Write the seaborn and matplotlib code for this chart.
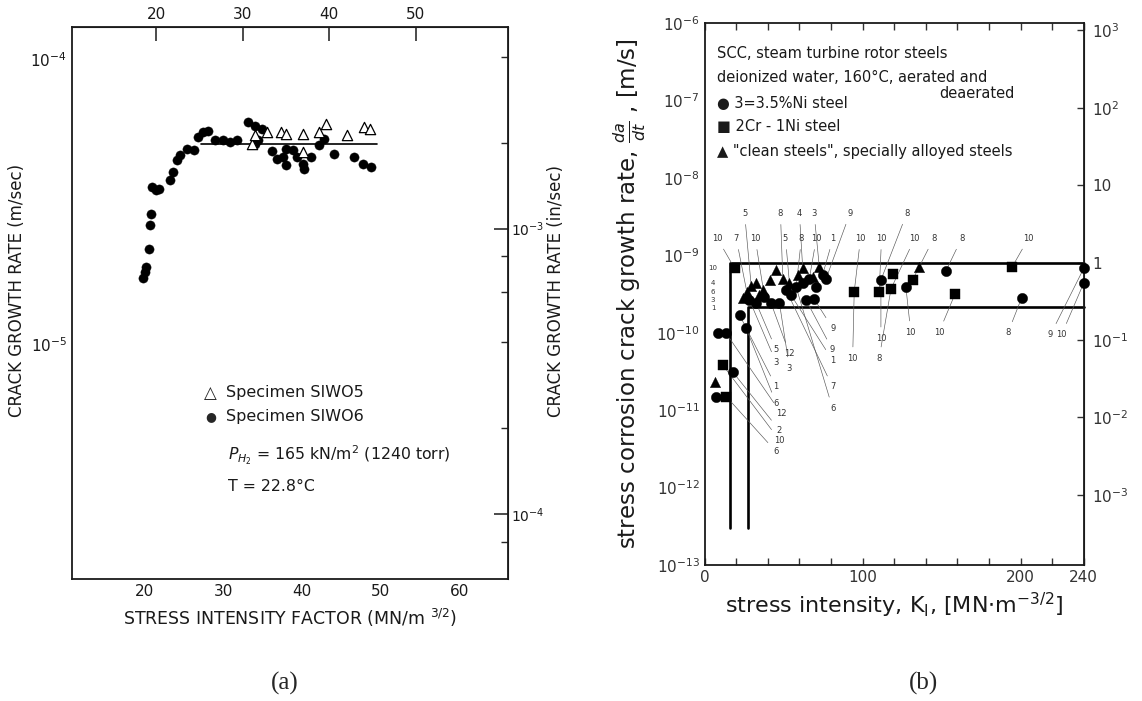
import numpy as np
import matplotlib
matplotlib.use("Agg")
import matplotlib.pyplot as plt
import matplotlib.ticker as mticker
import seaborn as sns

sns.set_style("white")
plt.rcParams['font.family'] = ['DejaVu Sans']
plt.rcParams['mathtext.fontset'] = 'dejavusans'
INK = '#1a1a1a'

# ---------------- (a) crack growth in hydrogen ----------------
# specimen SIW06 (filled circles), K in MN/m^3/2, rate in m/s
k_sw06 = [19.8, 20.0, 20.2, 20.5, 20.7, 20.8, 20.9, 21.4, 21.8,
          23.2, 23.6, 24.1, 24.5, 25.4, 26.3, 26.8, 27.4, 28.1,
          29.0, 29.9, 30.8, 31.7, 33.1, 34.0, 34.9, 34.4, 34.0,
          38.0, 37.6, 38.0, 38.9, 39.4, 40.1, 40.3, 41.2,
          42.1, 42.8, 44.1, 46.6, 47.7, 48.8, 36.2, 36.8]
v_sw06 = [1.70e-5, 1.79e-5, 1.87e-5, 2.16e-5, 2.61e-5, 2.86e-5, 3.56e-5, 3.46e-5, 3.51e-5,
          3.75e-5, 4.01e-5, 4.41e-5, 4.59e-5, 4.84e-5, 4.78e-5, 5.32e-5, 5.54e-5, 5.61e-5,
          5.18e-5, 5.18e-5, 5.11e-5, 5.18e-5, 6.00e-5, 5.84e-5, 5.69e-5, 5.18e-5, 5.04e-5,
          4.84e-5, 4.53e-5, 4.24e-5, 4.78e-5, 4.53e-5, 4.29e-5, 4.12e-5, 4.53e-5,
          4.98e-5, 5.25e-5, 4.65e-5, 4.53e-5, 4.29e-5, 4.18e-5, 4.75e-5, 4.45e-5]
# specimen SIW05 (open triangles)
k_sw05 = [33.7, 34.0, 35.5, 37.3, 38.0, 40.1, 42.1, 43.0, 45.7, 47.9, 48.6, 40.1]
v_sw05 = [5.04e-5, 5.40e-5, 5.54e-5, 5.54e-5, 5.46e-5, 5.46e-5, 5.54e-5, 5.92e-5,
          5.40e-5, 5.77e-5, 5.69e-5, 4.71e-5]
# plateau velocity
plateau_k = [27.2, 49.5]
plateau_v = [5.04e-5, 5.04e-5]
# axis ticks (m/s on the left, in/s on the right, ksi*in^0.5 on top)
ms_major = [1e-5, 1e-4]
ms_minor = [2e-6, 4e-6, 6e-6, 8e-6, 2e-5, 4e-5, 6e-5, 8e-5]
ins_major = [1e-4, 1e-3]
ins_minor = [8e-5, 2e-4, 4e-4, 6e-4, 8e-4, 2e-3, 4e-3]
ksi_ticks = [20, 30, 40, 50]

# ---------------- (b) SCC of steam turbine rotor steels ----------------
ni_k = [28.4, 32.6, 37.9, 42.1, 47.4, 51.6, 54.7, 57.9, 62.1, 66.3,
        70.5, 74.7, 76.9, 69.5, 64.2, 22.1, 26.3, 8.4, 13.7, 17.9,
        7.4, 111.6, 127.4, 152.6, 200.6, 240.0, 240.0]
ni_r = [2.65e-10, 2.44e-10, 2.9e-10, 2.4e-10, 2.4e-10, 3.56e-10, 3.07e-10, 3.9e-10, 4.35e-10, 5.0e-10,
        3.9e-10, 5.6e-10, 5.0e-10, 2.7e-10, 2.65e-10, 1.7e-10, 1.14e-10, 9.8e-11, 9.8e-11, 3.1e-11,
        1.5e-11, 4.8e-10, 3.9e-10, 6.2e-10, 2.8e-10, 6.8e-10, 4.4e-10]
cr_k = [19.0, 11.6, 13.7, 94.7, 110.5, 119.0, 118.0, 131.6, 158.6, 194.7]
cr_r = [6.8e-10, 3.8e-11, 1.5e-11, 3.4e-10, 3.4e-10, 5.8e-10, 3.7e-10, 4.8e-10, 3.2e-10, 7.1e-10]
cl_k = [24.2, 26.7, 29.5, 32.6, 34.7, 36.8, 41.1, 45.3, 49.5, 53.7, 58.9, 62.1, 68.4, 72.6, 6.3, 135.8]
cl_r = [2.78e-10, 3.4e-10, 4.0e-10, 4.35e-10, 3.07e-10, 3.56e-10, 4.8e-10, 6.5e-10, 5.0e-10,
        4.35e-10, 5.6e-10, 6.8e-10, 5.3e-10, 7.1e-10, 2.3e-11, 7.1e-10]
# scatter band boundaries
outer_k = [15.8, 15.8, 240]
outer_r = [3e-13, 7.9e-10, 7.9e-10]
inner_k = [27.4, 27.4, 240]
inner_r = [3e-13, 2.17e-10, 2.17e-10]
# reference numbers with leader lines
ref_txt = ['5', '8', '4', '3', '9', '8',
           '10', '7', '10', '5', '8', '10', '1', '10', '10', '10', '8', '8', '10',
           '9', '10', '10', '8', '10', '10', '8', '9', '10',
           '5', '12', '3', '3', '1', '6', '12', '2', '10', '6',
           '9', '1', '7', '6']
ref_k = [25.3, 48, 60, 69.3, 92, 128,
         8, 20, 32, 51.2, 61.3, 70.7, 81.3, 98.7, 112, 133, 145, 162.7, 205,
         81.1, 111.6, 93.7, 110.5, 130.5, 148.4, 192, 219, 226,
         45.3, 53.7, 45.3, 53.7, 45.3, 45.3, 48.4, 47.4, 47.4, 45.3,
         81, 81, 81, 81]
ref_r = [3.5e-9] * 6 + [1.66e-9] * 13 + \
        [1.14e-10, 8.5e-11, 4.7e-11, 4.7e-11, 1.02e-10, 1.02e-10, 1.0e-10, 9.5e-11, 9.5e-11,
         6e-11, 5.4e-11, 4.1e-11, 3.5e-11, 2e-11, 1.23e-11, 9.1e-12, 5.5e-12, 4.1e-12, 2.9e-12,
         6e-11, 4.4e-11, 2.0e-11, 1.06e-11]
tgt_k = [29.5, 49.5, 62.1, 72.6, 76.9, 111.6,
         19.0, 26.7, 37.9, 53.7, 57.9, 66.3, 74.7, 94.7, 110.5, 118.0, 131.6, 152.6, 194.7,
         69.5, 111.6, 94.7, 118.0, 127.4, 158.6, 200.6, 240, 240,
         32.6, 42.1, 28.4, 47.4, 22.1, 26.3, 13.7, 17.9, 11.6, 13.7,
         64.2, 54.7, 51.6, 57.9]
tgt_r = [4.0e-10, 5.0e-10, 6.8e-10, 7.1e-10, 5.0e-10, 4.8e-10,
         6.8e-10, 3.4e-10, 2.9e-10, 4.35e-10, 3.9e-10, 5.0e-10, 5.6e-10, 3.4e-10, 3.4e-10,
         3.7e-10, 4.8e-10, 6.2e-10, 7.1e-10,
         2.7e-10, 4.8e-10, 3.4e-10, 3.7e-10, 3.9e-10, 3.2e-10, 2.8e-10, 6.8e-10, 4.4e-10,
         2.44e-10, 2.4e-10, 2.65e-10, 2.4e-10, 1.7e-10, 1.14e-10, 9.8e-11, 3.1e-11, 3.8e-11, 1.5e-11,
         2.65e-10, 3.07e-10, 3.56e-10, 3.9e-10]
side_txt = ['10', '4', '6', '3', '1']
side_k = [5.3, 5.3, 5.3, 5.3, 5.3]
side_r = [6.8e-10, 4.35e-10, 3.4e-10, 2.65e-10, 2.1e-10]
ms_decades = [1e-13, 1e-12, 1e-11, 1e-10, 1e-9, 1e-8, 1e-7, 1e-6]
inyr_decades = [1e-3, 1e-2, 1e-1, 1, 10, 1e2, 1e3]

fig = plt.figure(figsize=(11.42, 7.01), dpi=100)
ax1 = fig.add_axes([0.063, 0.174, 0.382, 0.787])
ax2 = fig.add_axes([0.617, 0.194, 0.332, 0.773])

# ---- panel (a)
ax1.set_yscale('log')
sns.scatterplot(x=k_sw06, y=v_sw06, ax=ax1, marker='o', s=44, color='black',
                edgecolor='black', linewidth=0.3, zorder=3)
sns.scatterplot(x=k_sw05, y=v_sw05, ax=ax1, marker='^', s=55, facecolor='white',
                edgecolor='black', linewidth=0.9, zorder=4)
ax1.plot(plateau_k, plateau_v, color='black', lw=1.2, zorder=2)
ax1.set_xlim(10.77, 66.2)
ax1.set_ylim(1.503e-6, 1.29e-4)
ax1.set_xticks([20, 30, 40, 50, 60])
ax1.yaxis.set_major_locator(mticker.FixedLocator(ms_major))
ax1.yaxis.set_minor_locator(mticker.FixedLocator(ms_minor))
ax1.yaxis.set_major_formatter(mticker.LogFormatterSciNotation())
ax1.yaxis.set_minor_formatter(mticker.NullFormatter())
ax1.tick_params(which='major', direction='in', length=10, width=1.1, labelsize=11, colors=INK)
ax1.tick_params(which='minor', direction='in', length=5, width=1.0)
for s in ax1.spines.values():
    s.set_linewidth(1.3)
    s.set_color(INK)

top = ax1.secondary_xaxis('top', functions=(lambda x: (x + 0.5) / 1.0988,
                                            lambda t: t * 1.0988 - 0.5))
top.set_xticks(ksi_ticks)
top.tick_params(direction='in', length=10, width=1.1, labelsize=11, colors=INK)
right = ax1.secondary_yaxis('right', functions=(lambda y: y * 39.37, lambda y: y / 39.37))
right.yaxis.set_major_locator(mticker.FixedLocator(ins_major))
right.yaxis.set_minor_locator(mticker.FixedLocator(ins_minor))
right.yaxis.set_major_formatter(mticker.LogFormatterSciNotation())
right.yaxis.set_minor_formatter(mticker.NullFormatter())
right.tick_params(which='major', direction='in', length=10, width=1.1, labelsize=10, colors=INK, pad=2)
right.tick_params(which='minor', direction='in', length=5, width=1.0)

ax1.set_xlabel(r'STRESS INTENSITY FACTOR (MN/m $^{3/2}$)', fontsize=12.5, color=INK, labelpad=6)
fig.text(0.015, 0.585, 'CRACK GROWTH RATE (m/sec)', rotation=90, ha='center', va='center',
         fontsize=12, color=INK)
fig.text(0.487, 0.585, 'CRACK GROWTH RATE (in/sec)', rotation=90, ha='center', va='center',
         fontsize=12, color=INK)

ax1.text(0.317, 0.338, '△', transform=ax1.transAxes, ha='center', va='center', fontsize=12)
ax1.text(0.317, 0.294, '●', transform=ax1.transAxes, ha='center', va='center', fontsize=9)
ax1.text(0.352, 0.338, 'Specimen SIWO5', transform=ax1.transAxes, va='center', fontsize=11.5, color=INK)
ax1.text(0.352, 0.294, 'Specimen SIWO6', transform=ax1.transAxes, va='center', fontsize=11.5, color=INK)
ax1.text(0.358, 0.225, r'$P_{H_2}$ = 165 kN/m$^2$ (1240 torr)', transform=ax1.transAxes,
         va='center', fontsize=11.3, color=INK)
ax1.text(0.358, 0.167, 'T = 22.8°C', transform=ax1.transAxes, va='center', fontsize=11.3, color=INK)

# ---- panel (b)
ax2.set_yscale('log')
for tk, tr, lk, lr, t in zip(tgt_k, tgt_r, ref_k, ref_r, ref_txt):
    ax2.annotate(t, xy=(tk, tr), xytext=(lk, lr), fontsize=6, ha='center', va='center',
                 color='#333333',
                 arrowprops=dict(arrowstyle='-', lw=0.45, color='#555555', shrinkA=2.5, shrinkB=2))
for t, k, r in zip(side_txt, side_k, side_r):
    ax2.text(k, r, t, fontsize=5, ha='center', va='center', color='#333333')
ax2.plot(outer_k, outer_r, color='black', lw=1.9, zorder=2, clip_on=False)
ax2.plot(inner_k, inner_r, color='black', lw=1.9, zorder=2, clip_on=False)
sns.scatterplot(x=ni_k, y=ni_r, ax=ax2, marker='o', s=55, color='black', edgecolor='black',
                linewidth=0.3, zorder=4, clip_on=False)
sns.scatterplot(x=cr_k, y=cr_r, ax=ax2, marker='s', s=60, color='black', edgecolor='black',
                linewidth=0.3, zorder=4, clip_on=False)
sns.scatterplot(x=cl_k, y=cl_r, ax=ax2, marker='^', s=55, color='black', edgecolor='black',
                linewidth=0.3, zorder=4, clip_on=False)
ax2.set_xlim(0, 240)
ax2.set_ylim(1e-13, 1e-6)
ax2.set_xticks(np.arange(0, 241, 20))
ax2.xaxis.set_major_formatter(mticker.FuncFormatter(
    lambda v, p: f'{int(v)}' if int(round(v)) in (0, 100, 200, 240) else ''))
ax2.xaxis.set_ticks_position('both')
ax2.yaxis.set_major_locator(mticker.FixedLocator(ms_decades))
ax2.yaxis.set_major_formatter(mticker.LogFormatterSciNotation())
ax2.yaxis.set_minor_locator(mticker.NullLocator())
ax2.tick_params(direction='in', length=5, width=1.0, labelsize=11, colors='#333333')
for s in ax2.spines.values():
    s.set_linewidth(1.3)
    s.set_color(INK)

def inyr_fmt(v, p):
    e = int(round(np.log10(v)))
    if e == 0:
        return '1'
    if e == 1:
        return '10'
    return rf'$10^{{{e}}}$'

r2 = ax2.secondary_yaxis('right', functions=(lambda y: y * 1.2425e9, lambda y: y / 1.2425e9))
r2.yaxis.set_major_locator(mticker.FixedLocator(inyr_decades))
r2.yaxis.set_major_formatter(mticker.FuncFormatter(inyr_fmt))
r2.yaxis.set_minor_locator(mticker.NullLocator())
r2.tick_params(direction='in', length=5, width=1.0, labelsize=11, colors='#333333', pad=6)

ax2.set_xlabel(r'stress intensity, K$_\mathrm{I}$, [MN$\cdot$m$^{-3/2}$]', fontsize=16, color=INK,
               labelpad=4)
ax2.set_ylabel(r'stress corrosion crack growth rate, $\frac{da}{dt}$ , [m/s]', fontsize=16.5,
               color=INK, labelpad=6)

legend_fs = 10.5
ax2.text(0.033, 0.944, 'SCC, steam turbine rotor steels', transform=ax2.transAxes,
         va='center', fontsize=legend_fs, color=INK)
ax2.text(0.033, 0.900, 'deionized water, 160°C, aerated and', transform=ax2.transAxes,
         va='center', fontsize=legend_fs, color=INK)
ax2.text(0.62, 0.870, 'deaerated', transform=ax2.transAxes, va='center', fontsize=legend_fs, color=INK)
ax2.text(0.033, 0.852, '● 3=3.5%Ni steel', transform=ax2.transAxes, va='center', fontsize=legend_fs,
         color=INK)
ax2.text(0.033, 0.810, '■ 2Cr - 1Ni steel', transform=ax2.transAxes, va='center', fontsize=legend_fs,
         color=INK)
ax2.text(0.033, 0.764, '▲ "clean steels", specially alloyed steels', transform=ax2.transAxes,
         va='center', fontsize=legend_fs, color=INK)

fig.text(285 / 1142, 1 - 683 / 701, '(a)', ha='center', va='center', fontsize=18,
         family='Liberation Serif')
fig.text(924 / 1142, 1 - 683 / 701, '(b)', ha='center', va='center', fontsize=18,
         family='Liberation Serif')

fig.savefig('out.png', dpi=100)
